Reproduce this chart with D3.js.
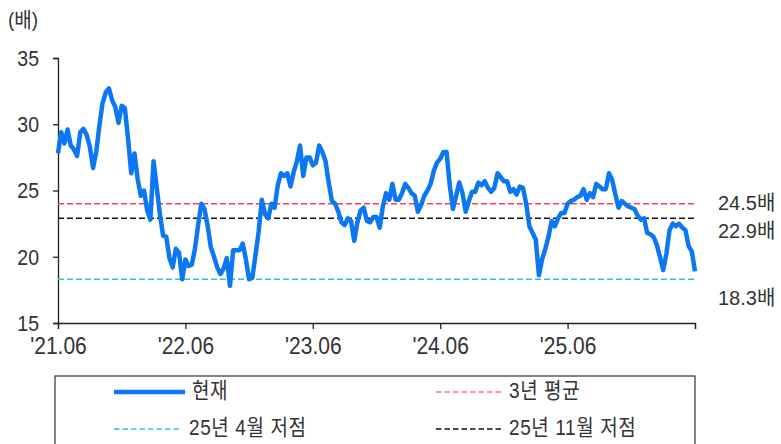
<!DOCTYPE html>
<html>
<head>
<meta charset="utf-8">
<script src="https://cdn.jsdelivr.net/npm/d3@7"></script>
<style>
  html, body { margin: 0; padding: 0; background: #fff; }
  svg { display: block; }
  text { font-family: "Liberation Sans", "Noto Sans CJK KR", sans-serif; fill: #333; }
  .stretch { transform-box: fill-box; transform-origin: center; }
</style>
</head>
<body>
<svg id="chart" width="781" height="444"></svg>
<script>
// ---- data ----
const perYear = 40; // points per year on the x axis
const xTickLabels = ["'21.06", "'22.06", "'23.06", "'24.06", "'25.06", ""];
const yTicks = [15, 20, 25, 30, 35];
const current = [
  27.8, 29.4, 28.55, 29.6, 28.4, 28.1, 27.6, 29.4, 29.65, 29.2,
  28.3, 26.7, 27.9, 29.9, 31.6, 32.4, 32.7, 31.8, 31.3, 30.1,
  31.4, 31.2, 28.9, 26.3, 27.8, 25.9, 24.6, 25.0, 23.5, 22.8,
  27.2, 25.2, 23.2, 21.6, 21.5, 19.9, 19.2, 20.6, 20.3, 18.3,
  19.8, 19.3, 19.4, 20.6, 22.4, 24.0, 23.6, 22.3, 20.7, 20.0,
  19.2, 18.7, 19.1, 19.9, 17.8, 20.5, 20.5, 20.5, 21.0, 19.8,
  18.3, 18.4, 20.1, 21.9, 24.3, 23.2, 22.9, 24.0, 23.7, 25.4,
  26.3, 26.1, 26.3, 25.3, 26.4, 27.2, 28.4, 26.1, 27.5, 27.5,
  26.9, 27.1, 28.4, 27.9, 27.2, 25.6, 24.2, 24.0, 23.4, 22.6,
  22.4, 22.9, 22.7, 21.2, 22.6, 23.5, 23.7, 22.7, 22.6, 23.0,
  23.0, 22.2, 23.8, 24.8, 24.3, 25.5, 24.3, 24.3, 24.8, 25.5,
  25.2, 24.8, 24.6, 23.4, 23.9, 24.6, 25.0, 25.5, 26.5, 27.1,
  27.4, 27.9, 27.9, 25.4, 23.6, 24.6, 25.6, 24.8, 23.4, 24.2,
  24.9, 24.9, 25.6, 25.4, 25.7, 25.2, 24.9, 25.2, 26.3, 26.0,
  25.7, 25.7, 24.9, 25.1, 24.7, 25.3, 25.2, 24.0, 22.3, 21.8,
  21.3, 18.6, 19.8, 20.6, 21.5, 22.7, 22.3, 22.9, 23.3, 23.3,
  24.0, 24.2, 24.3, 24.5, 24.6, 25.1, 24.3, 24.8, 24.5, 25.5,
  25.3, 25.1, 25.1, 26.3, 25.8, 24.7, 23.7, 24.2, 24.0, 23.8,
  23.7, 23.6, 23.1, 22.8, 22.9, 21.8, 21.7, 21.5, 20.9, 20.0,
  19.0, 20.2, 22.0, 22.5, 22.3, 22.5, 22.2, 22.0, 20.8, 20.4,
  18.9
];
const refNames = ["3년 평균", "25년 4월 저점", "25년 11월 저점"];
const refValues = [24.0, 18.3, 22.9];
const refColors = ["#ff3a6a", "#2ec4d4", "#111111"];
const refLabels = ["24.5배", "18.3배", "22.9배"];
const seriesName = "현재";
const unitLabel = "(배)";

// ---- layout ----
const svg = d3.select("#chart");
const margin = { left: 58, right: 86, top: 58, bottom: 121 };
const W = 781, H = 444;
const x = d3.scaleLinear().domain([0, 5 * perYear]).range([margin.left, W - margin.right]);
const y = d3.scaleLinear().domain([15, 35]).range([H - margin.bottom, margin.top]);

// axes
const xAxis = d3.axisBottom(x)
  .tickValues(d3.range(0, 5 * perYear + 1, perYear))
  .tickFormat((d, i) => xTickLabels[i])
  .tickSize(6).tickPadding(6);
const gx = svg.append("g").attr("transform", `translate(0,${y(15)})`).call(xAxis);
gx.selectAll("text").style("font-size", "21px").attr("y", 23).attr("dy", "0.35em")
  .attr("class", "stretch").style("transform", "scaleY(1.15)");

const yAxis = d3.axisLeft(y).tickValues(yTicks).tickSize(5).tickPadding(14);
const gy = svg.append("g").attr("transform", `translate(${x(0)},0)`).call(yAxis);
gy.selectAll("text").style("font-size", "19.5px")
  .attr("class", "stretch").style("transform", "scaleY(1.17)");

[gx, gy].forEach(g => {
  g.select(".domain").attr("stroke", "#222").attr("stroke-width", 1.3);
  g.selectAll(".tick line").attr("stroke", "#222").attr("stroke-width", 1.3);
  g.selectAll("text").attr("fill", "#333");
});

svg.append("text").attr("x", 8).attr("y", 21).attr("dominant-baseline", "middle")
  .attr("class", "stretch").style("transform", "scaleY(1.1)")
  .style("font-size", "19px").text(unitLabel);

// reference lines
refValues.forEach((v, i) => {
  svg.append("line")
    .attr("x1", x(0)).attr("x2", x(5 * perYear))
    .attr("y1", y(v)).attr("y2", y(v))
    .attr("stroke", refColors[i]).attr("stroke-width", 1.5)
    .attr("stroke-dasharray", "6,3");
});

// series line
const line = d3.line().x((d, i) => x(i)).y(d => y(d));
svg.append("path").datum(current)
  .attr("d", line)
  .attr("fill", "none")
  .attr("stroke", "#0c77f2")
  .attr("stroke-width", 4.5)
  .attr("stroke-linejoin", "round");

// right-side labels
const labelY = [205, 300, 233];
refLabels.forEach((t, i) => {
  svg.append("text").attr("x", 718).attr("y", labelY[i])
    .attr("dominant-baseline", "middle")
    .style("font-size", "20px").text(t);
});

// legend
svg.append("rect").attr("x", 55).attr("y", 376).attr("width", 640).attr("height", 90)
  .attr("fill", "none").attr("stroke", "#333").attr("stroke-width", 1.2);

const legendItems = [
  { name: seriesName, color: "#0c77f2", width: 4.5, dash: null, x: 114, len: 71, y: 392 },
  { name: refNames[0], color: "#ff6b8e", width: 1.5, dash: "5.5,3", x: 436, len: 66, y: 392 },
  { name: refNames[1], color: "#2ec4d4", width: 1.5, dash: "5.5,3", x: 114, len: 68, y: 429 },
  { name: refNames[2], color: "#111111", width: 1.5, dash: "5.5,3", x: 436, len: 66, y: 429 }
];
legendItems.forEach(d => {
  svg.append("line").attr("x1", d.x).attr("x2", d.x + d.len)
    .attr("y1", d.y).attr("y2", d.y)
    .attr("stroke", d.color).attr("stroke-width", d.width)
    .attr("stroke-dasharray", d.dash);
  svg.append("text").attr("x", d.x + d.len + 7).attr("y", d.y)
    .attr("dominant-baseline", "middle")
    .attr("class", "stretch").style("transform", "scaleY(1.15)")
    .style("letter-spacing", "0.6px")
    .style("font-size", "19px").text(d.name);
});
</script>
</body>
</html>
